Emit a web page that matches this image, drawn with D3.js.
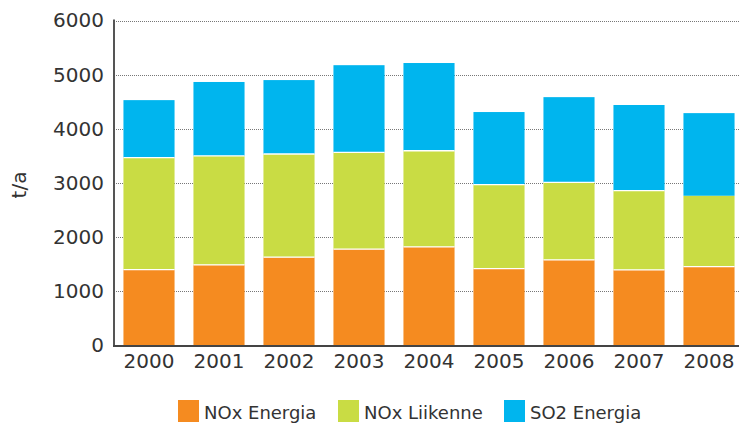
<!DOCTYPE html>
<html>
<head>
<meta charset="utf-8">
<script src="https://cdn.jsdelivr.net/npm/d3@7"></script>
<style>
  body { margin: 0; background: #fff; }
  text { font-family: "DejaVu Sans", sans-serif; fill: #333; }
</style>
</head>
<body>
<script>
// chart data
const years = ['2000', '2001', '2002', '2003', '2004', '2005', '2006', '2007', '2008'];
const noxEnergia = [1400, 1490, 1630, 1780, 1820, 1420, 1580, 1395, 1455];
const noxLiikenne = [2070, 2010, 1905, 1785, 1775, 1550, 1430, 1465, 1310];
const so2Energia = [1060, 1365, 1365, 1610, 1620, 1340, 1575, 1580, 1525];
const seriesNames = ['NOx Energia', 'NOx Liikenne', 'SO2 Energia'];
const yTicks = [0, 1000, 2000, 3000, 4000, 5000, 6000];
const yLabel = 't/a';

const colors = ['#F58B20', '#C9DC44', '#00B5EE'];

let width = 739;
let height = 425;
let bounds = { left: 114, top: 20.5, bottom: 345.5, right: 744 };

let svg = d3.select('body').append('svg')
  .attr('width', width)
  .attr('height', height);

let table = years.map((y, i) => ({
  year: y,
  'NOx Energia': noxEnergia[i],
  'NOx Liikenne': noxLiikenne[i],
  'SO2 Energia': so2Energia[i],
}));
let stacked = d3.stack().keys(seriesNames)(table);

let x = d3.scaleBand()
  .domain(years)
  .range([bounds.left, bounds.right])
  .paddingInner(0.27)
  .paddingOuter(0.135);
let y = d3.scaleLinear()
  .domain([0, 6000])
  .range([bounds.bottom, bounds.top]);

// dotted grid lines
svg.append('g')
  .selectAll('line')
  .data(yTicks.filter(t => t > 0))
  .enter()
  .append('line')
  .attr('x1', bounds.left)
  .attr('x2', width)
  .attr('y1', d => Math.round(y(d)) + 0.5)
  .attr('y2', d => Math.round(y(d)) + 0.5)
  .style('stroke', '#777')
  .style('stroke-width', 1)
  .style('stroke-dasharray', '1,1');

// bars
let layers = svg.append('g')
  .selectAll('g')
  .data(stacked)
  .enter()
  .append('g')
  .attr('fill', (d, i) => colors[i]);

layers.selectAll('rect')
  .data(d => d)
  .enter()
  .append('rect')
  .attr('x', d => x(d.data.year))
  .attr('width', x.bandwidth())
  .attr('y', d => y(d[1]))
  .attr('height', d => y(d[0]) - y(d[1]));

// white separators between the segments (the last bar has none above green)
let separators = stacked.slice(0, 2).flat()
  .filter(d => !(d.data.year === '2008' && d[1] !== d.data['NOx Energia']));
svg.append('g')
  .selectAll('line')
  .data(separators)
  .enter()
  .append('line')
  .attr('x1', d => x(d.data.year))
  .attr('x2', d => x(d.data.year) + x.bandwidth())
  .attr('y1', d => y(d[1]))
  .attr('y2', d => y(d[1]))
  .style('stroke', '#fff')
  .style('stroke-width', 1.3);

// y axis
let yAxis = d3.axisLeft(y)
  .tickValues(yTicks)
  .tickFormat(d3.format('d'))
  .tickSize(0)
  .tickPadding(10);
let yAxisG = svg.append('g')
  .attr('transform', 'translate(' + bounds.left + ',0)')
  .call(yAxis);
yAxisG.select('.domain').remove();
yAxisG.selectAll('text')
  .style('font-size', '20px')
  .attr('fill', '#333');

svg.append('line')
  .attr('x1', bounds.left)
  .attr('x2', bounds.left)
  .attr('y1', bounds.top - 1)
  .attr('y2', bounds.bottom + 1)
  .style('stroke', '#555')
  .style('stroke-width', 2);

// x axis
let xAxis = d3.axisBottom(x).tickSize(0).tickPadding(8);
let xAxisG = svg.append('g')
  .attr('transform', 'translate(0,' + bounds.bottom + ')')
  .call(xAxis);
xAxisG.select('.domain').remove();
xAxisG.selectAll('text')
  .style('font-size', '20px')
  .attr('fill', '#333');

svg.append('line')
  .attr('x1', bounds.left - 1)
  .attr('x2', width)
  .attr('y1', bounds.bottom + 0.5)
  .attr('y2', bounds.bottom + 0.5)
  .style('stroke', '#444')
  .style('stroke-width', 2);

// y label
svg.append('text')
  .attr('transform', 'translate(26,185) rotate(-90)')
  .attr('text-anchor', 'middle')
  .style('font-size', '20px')
  .text(yLabel);

// legend
let legendX = [178, 338, 504];
let legend = svg.append('g')
  .selectAll('g')
  .data(seriesNames)
  .enter()
  .append('g')
  .attr('transform', (d, i) => 'translate(' + legendX[i] + ',400)');
legend.append('rect')
  .attr('width', 21)
  .attr('height', 22)
  .attr('fill', (d, i) => colors[i]);
legend.append('text')
  .attr('x', 26)
  .attr('y', 19)
  .style('font-size', '18px')
  .text(d => d);
</script>
</body>
</html>
